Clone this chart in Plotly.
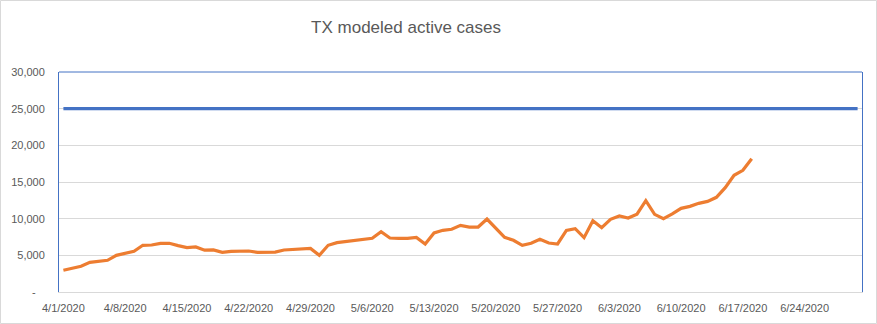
import pandas as pd
import plotly.graph_objects as go

# Modeled active COVID-19 cases in Texas, daily from 4/1/2020
active_cases = [
    2960, 3230, 3500, 4050, 4190, 4320, 5000, 5270, 5550, 6370,
    6410, 6640, 6640, 6320, 6050, 6140, 5700, 5730, 5410, 5550,
    5590, 5590, 5410, 5410, 5450, 5730, 5820, 5950, 5950, 5000,
    6370, 6730, 6880, 7050, 7190, 7320, 8230, 7360, 7320, 7320,
    7450, 6550, 8050, 8410, 8550, 9090, 8860, 8860, 9950, 8700,
    7450, 7050, 6370, 6640, 7190, 6680, 6550, 8410, 8640, 7410,
    9730, 8770, 9910, 10360, 10090, 10620, 12450, 10590, 10000, 10640,
    11410, 11680, 12090, 12360, 12910, 14230, 15910, 16590, 18180,
]
case_dates = pd.date_range("2020-04-01", periods=len(active_cases), freq="D")

# Capacity threshold line
capacity_dates = ["2020-04-01", "2020-06-30"]
capacity_values = [25000, 25000]

# Axis ticks
x_tick_dates = ["2020-04-01", "2020-04-08", "2020-04-15", "2020-04-22", "2020-04-29",
                "2020-05-06", "2020-05-13", "2020-05-20", "2020-05-27", "2020-06-03",
                "2020-06-10", "2020-06-17", "2020-06-24"]
x_tick_labels = ["4/1/2020", "4/8/2020", "4/15/2020", "4/22/2020", "4/29/2020",
                 "5/6/2020", "5/13/2020", "5/20/2020", "5/27/2020", "6/3/2020",
                 "6/10/2020", "6/17/2020", "6/24/2020"]
y_tick_values = [0, 5000, 10000, 15000, 20000, 25000, 30000]
y_tick_labels = ["-\u00a0\u00a0\u00a0", "5,000", "10,000", "15,000", "20,000", "25,000", "30,000"]

BLUE = "#4472C4"
ORANGE = "#ED7D31"
GRID = "#D9D9D9"
TEXT = "#595959"
FONT = "Liberation Sans, Arial, sans-serif"

W, H = 877, 324
L, R, T, B = 59, 15, 72, 32

fig = go.Figure()
fig.add_trace(go.Scatter(x=capacity_dates, y=capacity_values, mode="lines",
                         line=dict(color=BLUE, width=3.2), name="Capacity",
                         showlegend=False))
fig.add_trace(go.Scatter(x=case_dates, y=active_cases, mode="lines",
                         line=dict(color=ORANGE, width=3.2), name="Active cases",
                         showlegend=False))

pw = W - L - R
ph = H - T - B
shapes = [
    # plot area frame on top edge
    dict(type="line", xref="paper", yref="paper", x0=0, x1=1, y0=1, y1=1,
         line=dict(color=BLUE, width=1)),
    # chart area border
    dict(type="rect", xref="paper", yref="paper",
         x0=(-L + 0.5) / pw, x1=1 + (R - 0.5) / pw,
         y0=(-B + 0.5) / ph, y1=1 + (T - 0.5) / ph,
         line=dict(color=GRID, width=1)),
]

fig.update_layout(
    width=W, height=H,
    margin=dict(l=L, r=R, t=T, b=B, pad=0, autoexpand=False),
    paper_bgcolor="white", plot_bgcolor="white",
    font=dict(family=FONT, color=TEXT, size=11),
    title=dict(text="TX modeled active cases", x=0.463, xanchor="center",
               y=1 - 27 / H, yanchor="middle", yref="container",
               font=dict(family=FONT, size=17, color=TEXT)),
    shapes=shapes,
    xaxis=dict(type="date", range=["2020-03-31 12:00", "2020-06-30 12:00"],
               tickmode="array", tickvals=x_tick_dates, ticktext=x_tick_labels,
               showgrid=False, showline=True, linecolor=GRID, linewidth=1,
               ticks="outside", ticklen=6, tickcolor="rgba(0,0,0,0)",
               zeroline=False, automargin=False, tickfont=dict(size=11, color=TEXT)),
    yaxis=dict(range=[0, 30000], tickmode="array", tickvals=y_tick_values,
               ticktext=y_tick_labels, showgrid=True, gridcolor=GRID, gridwidth=1,
               showline=True, linecolor=BLUE, linewidth=1, mirror=True,
               zeroline=False, ticks="outside", ticklen=11, tickcolor="rgba(0,0,0,0)",
               automargin=False, tickfont=dict(size=11, color=TEXT)),
)

fig.write_html("out.html")
